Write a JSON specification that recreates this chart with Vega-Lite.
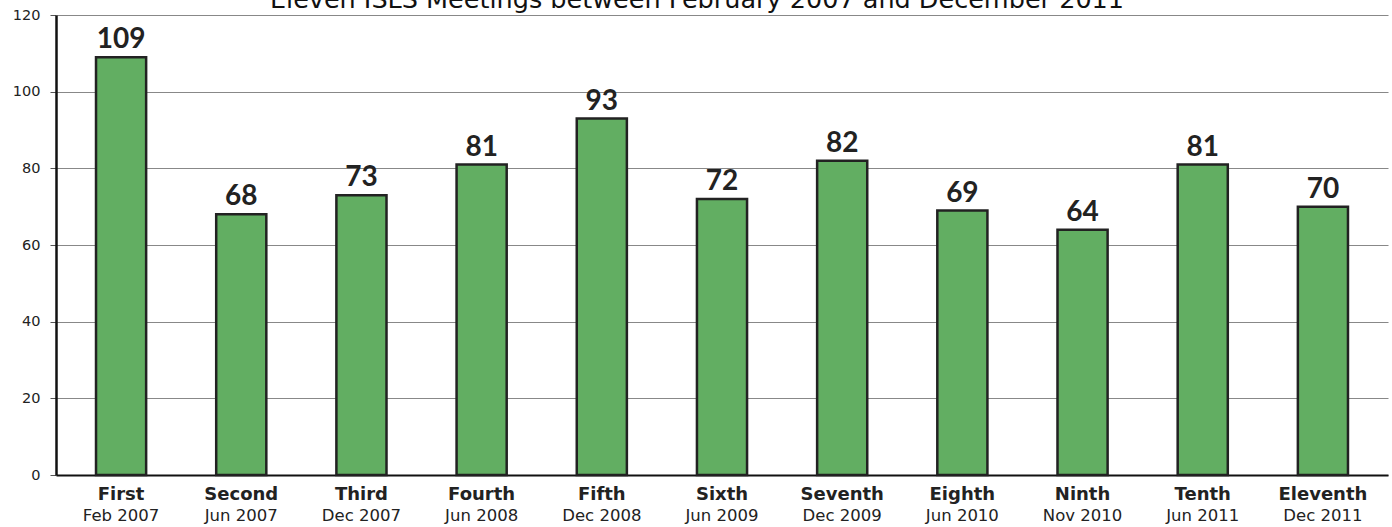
{
  "$schema": "https://vega.github.io/schema/vega-lite/v6.json",
  "autosize": {"type": "none"},
  "width": 1332,
  "height": 460,
  "padding": {"left": 56, "top": 15, "right": 4, "bottom": 52},
  "background": "white",
  "data": {
    "values": [
      {"meeting": "First", "date": "Feb 2007", "count": 109},
      {"meeting": "Second", "date": "Jun 2007", "count": 68},
      {"meeting": "Third", "date": "Dec 2007", "count": 73},
      {"meeting": "Fourth", "date": "Jun 2008", "count": 81},
      {"meeting": "Fifth", "date": "Dec 2008", "count": 93},
      {"meeting": "Sixth", "date": "Jun 2009", "count": 72},
      {"meeting": "Seventh", "date": "Dec 2009", "count": 82},
      {"meeting": "Eighth", "date": "Jun 2010", "count": 69},
      {"meeting": "Ninth", "date": "Nov 2010", "count": 64},
      {"meeting": "Tenth", "date": "Jun 2011", "count": 81},
      {"meeting": "Eleventh", "date": "Dec 2011", "count": 70}
    ]
  },
  "encoding": {
    "x": {
      "field": "meeting",
      "type": "nominal",
      "sort": null,
      "scale": {"paddingInner": 0.583, "paddingOuter": 0.333},
      "axis": {
        "title": null,
        "labelAngle": 0,
        "labelFont": "DejaVu Sans",
        "labelFontWeight": "bold",
        "labelFontSize": 18,
        "labelColor": "#222222",
        "labelPadding": 10,
        "ticks": false,
        "domainColor": "#111111",
        "domainWidth": 2,
        "grid": false
      }
    }
  },
  "layer": [
    {
      "mark": {"type": "bar", "color": "#62ae62", "stroke": "#222222", "strokeWidth": 2.5},
      "encoding": {
        "y": {
          "field": "count",
          "type": "quantitative",
          "scale": {"domain": [0, 120], "nice": false},
          "axis": {
            "title": null,
            "values": [0, 20, 40, 60, 80, 100, 120],
            "labelFont": "DejaVu Sans",
            "labelFontSize": 14.5,
            "labelColor": "#222222",
            "labelPadding": 10,
            "tickSize": 6,
            "tickColor": "#555555",
            "domainColor": "#111111",
            "domainWidth": 2.5,
            "gridColor": "#888888",
            "gridWidth": 1.2
          }
        }
      }
    },
    {
      "mark": {"type": "text", "baseline": "alphabetic", "dy": -9, "font": "Lato", "fontWeight": "bold", "fontSize": 28, "color": "#222222"},
      "encoding": {
        "y": {"field": "count", "type": "quantitative"},
        "text": {"field": "count", "type": "quantitative"}
      }
    },
    {
      "mark": {"type": "text", "baseline": "alphabetic", "dy": 46, "font": "DejaVu Sans", "fontSize": 16.5, "color": "#222222"},
      "encoding": {
        "y": {"datum": 0, "type": "quantitative"},
        "text": {"field": "date", "type": "nominal"}
      }
    },
    {
      "data": {"values": [{"heading": "Eleven ISLS Meetings between February 2007 and December 2011"}]},
      "mark": {"type": "text", "baseline": "alphabetic", "align": "center", "dx": -25, "dy": -7, "font": "DejaVu Sans", "fontSize": 25.5, "color": "#111111"},
      "encoding": {
        "x": {"datum": "Sixth"},
        "y": {"datum": 120, "type": "quantitative"},
        "text": {"field": "heading", "type": "nominal"}
      }
    }
  ],
  "config": {"view": {"stroke": null}}
}
